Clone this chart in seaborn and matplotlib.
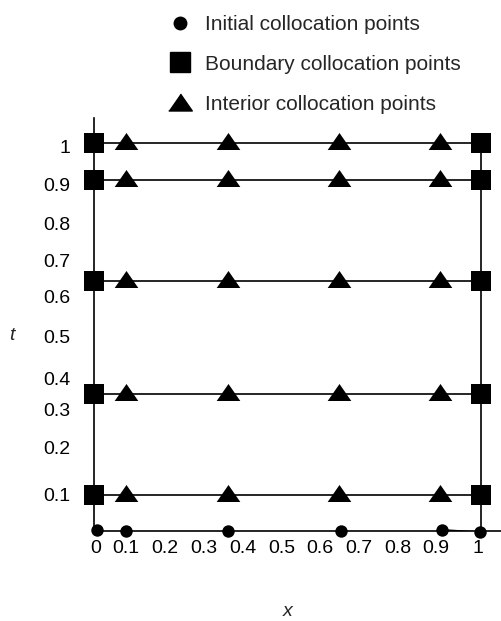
import matplotlib
matplotlib.use("Agg")
import matplotlib.pyplot as plt
from matplotlib.lines import Line2D
from matplotlib.markers import MarkerStyle
import seaborn as sns
import pandas as pd

sns.set_theme(style="white")
plt.rcParams["font.family"] = ["Liberation Sans", "DejaVu Sans"]

# collocation grid
t_levels = [0.093, 0.352, 0.645, 0.905, 1.0]          # rows with boundary / interior points
x_interior = [0.083, 0.346, 0.634, 0.894]             # interior x positions
x_initial = [0.008, 0.083, 0.346, 0.638, 0.899, 0.997]  # points on t = 0
t_initial = [0.002, 0.0, 0.0, 0.0, 0.003, -0.003]
x_bounds = [0.0, 1.0]

xtick_pos = [0.005, 0.083, 0.183, 0.284, 0.385, 0.486, 0.584, 0.685, 0.786, 0.884, 0.993]
xtick_lab = ["0", "0.1", "0.2", "0.3", "0.4", "0.5", "0.6", "0.7", "0.8", "0.9", "1"]
ytick_pos = [0.093, 0.216, 0.314, 0.394, 0.50, 0.603, 0.698, 0.792, 0.892, 0.99]
ytick_lab = ["0.1", "0.2", "0.3", "0.4", "0.5", "0.6", "0.7", "0.8", "0.9", "1"]

legend_labels = ["Initial collocation points", "Boundary collocation points",
                 "Interior collocation points"]

interior = pd.DataFrame([(x, t) for t in t_levels for x in x_interior], columns=["x", "t"])
boundary = pd.DataFrame([(x, t) for t in t_levels for x in x_bounds], columns=["x", "t"])
initial = pd.DataFrame({"x": x_initial, "t": t_initial})

tri = MarkerStyle([(-1, -0.72), (1, -0.72), (0, 0.72)])
tri_up = MarkerStyle([(-1, -0.55), (1, -0.55), (0, 0.89)])  # sits a bit above its row

fig = plt.figure(figsize=(5.02, 6.21), dpi=100)
ax = fig.add_axes([0.1873, 0.1449, 0.8127, 0.665])

# grid lines
ax.hlines(t_levels, 0, 1, color="black", lw=1.2, zorder=1)
ax.vlines(1, 0, max(t_levels), color="black", lw=1.2, zorder=1)
ax.plot(x_initial[-2:], t_initial[-2:], color="black", lw=1.2, zorder=1)

sns.scatterplot(data=initial, x="x", y="t", marker="o", s=80, color="black",
                edgecolor="black", linewidth=0, clip_on=False, zorder=3, ax=ax)
sns.scatterplot(data=boundary, x="x", y="t", marker="s", s=210, color="black",
                edgecolor="black", linewidth=0, clip_on=False, zorder=3, ax=ax)
sns.scatterplot(data=interior, x="x", y="t", marker=tri_up, s=290, color="black",
                edgecolor="black", linewidth=0, clip_on=False, zorder=3, ax=ax)

ax.set_xlim(0, 1.054)
ax.set_ylim(0, 1.064)
for side in ["top", "right"]:
    ax.spines[side].set_visible(False)
for side in ["left", "bottom"]:
    ax.spines[side].set_color("black")
    ax.spines[side].set_linewidth(1.2)

ax.set_xticks(xtick_pos, xtick_lab)
ax.set_yticks(ytick_pos, ytick_lab)
ax.tick_params(axis="x", length=0, pad=6.5, labelsize=14, colors="black")
ax.tick_params(axis="y", length=0, pad=17, labelsize=14, colors="black")

ax.set_xlabel("x", fontsize=14, style="italic", va="center")
ax.set_ylabel("t", fontsize=14, style="italic", rotation=0, ha="center", va="center")
ax.xaxis.set_label_coords(0.4755, -0.194)
ax.yaxis.set_label_coords(-0.201, 0.4746)

handles = [
    Line2D([], [], ls="none", marker="o", ms=9, color="black"),
    Line2D([], [], ls="none", marker="s", ms=14, color="black"),
    Line2D([], [], ls="none", marker=tri, ms=17, color="black"),
]
fig.legend(handles, legend_labels, loc="upper left", bbox_to_anchor=(0.333, 0.976),
           frameon=False, fontsize=15, handlelength=1.2, handletextpad=0.6,
           labelspacing=1.0, borderpad=0, borderaxespad=0)

fig.savefig("out.png", dpi=100)
